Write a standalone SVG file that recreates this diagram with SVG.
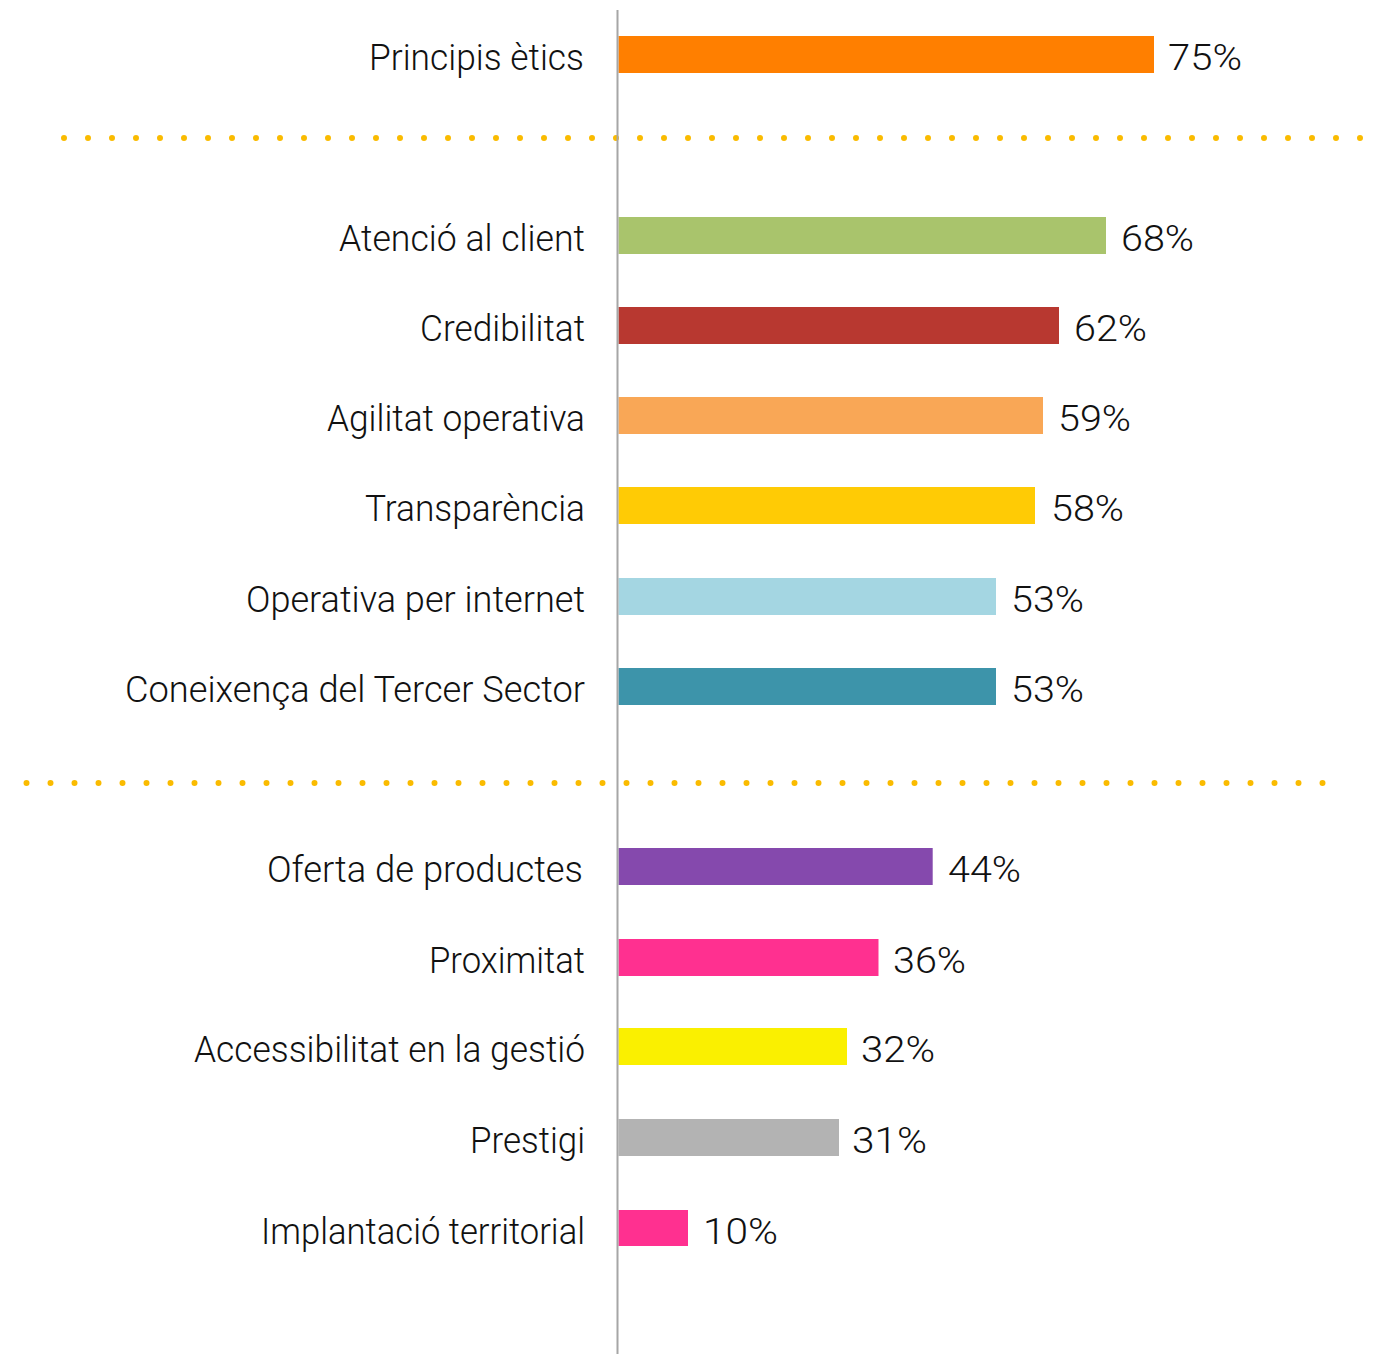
<svg xmlns="http://www.w3.org/2000/svg" width="1373" height="1354" viewBox="0 0 1373 1354">
<style>
  .lbl { font-family: Roboto, "Liberation Sans", sans-serif; font-weight: 300; font-size: 36px; fill: #111; text-anchor: end; }
  .val { font-family: Roboto, "Liberation Sans", sans-serif; font-weight: 300; font-size: 36px; fill: #111; }
  .dots { stroke: #FABB00; stroke-width: 6; stroke-linecap: round; stroke-dasharray: 0 24; fill: none; }
  .axis { stroke: #A6A6A6; stroke-width: 2; }
</style>
<rect width="1373" height="1354" fill="#fff"/>
<g id="separators">
  <line class="dots" x1="64" y1="138" x2="1361" y2="138"/>
  <line class="dots" x1="26.5" y1="783" x2="1323" y2="783"/>
</g>
<g id="bar-principis">
  <rect x="618.5" y="36" width="535.5" height="37" fill="#FF7F00"/>
  <text class="lbl" x="584" y="70" textLength="215" lengthAdjust="spacingAndGlyphs">Principis ètics</text>
  <text class="val" x="1168" y="70" textLength="74" lengthAdjust="spacingAndGlyphs">75%</text>
</g>
<g id="bar-atencio">
  <rect x="618.5" y="217" width="487.5" height="37" fill="#A9C46C"/>
  <text class="lbl" x="585" y="251" textLength="246" lengthAdjust="spacingAndGlyphs">Atenció al client</text>
  <text class="val" x="1121" y="251" textLength="73" lengthAdjust="spacingAndGlyphs">68%</text>
</g>
<g id="bar-credibilitat">
  <rect x="618.5" y="307" width="440.5" height="37" fill="#B83830"/>
  <text class="lbl" x="585" y="341" textLength="165" lengthAdjust="spacingAndGlyphs">Credibilitat</text>
  <text class="val" x="1074" y="341" textLength="73" lengthAdjust="spacingAndGlyphs">62%</text>
</g>
<g id="bar-agilitat">
  <rect x="618.5" y="397" width="424.5" height="37" fill="#F9A756"/>
  <text class="lbl" x="585" y="431" textLength="258" lengthAdjust="spacingAndGlyphs">Agilitat operativa</text>
  <text class="val" x="1058" y="431" textLength="73" lengthAdjust="spacingAndGlyphs">59%</text>
</g>
<g id="bar-transparencia">
  <rect x="618.5" y="487" width="416.5" height="37" fill="#FFCB05"/>
  <text class="lbl" x="585" y="521" textLength="220" lengthAdjust="spacingAndGlyphs">Transparència</text>
  <text class="val" x="1051" y="521" textLength="73" lengthAdjust="spacingAndGlyphs">58%</text>
</g>
<g id="bar-internet">
  <rect x="618.5" y="578" width="377.5" height="37" fill="#A4D6E2"/>
  <text class="lbl" x="585" y="612" textLength="339" lengthAdjust="spacingAndGlyphs">Operativa per internet</text>
  <text class="val" x="1011" y="612" textLength="73" lengthAdjust="spacingAndGlyphs">53%</text>
</g>
<g id="bar-coneixenca">
  <rect x="618.5" y="668" width="377.5" height="37" fill="#3D94AA"/>
  <text class="lbl" x="585" y="702" textLength="460" lengthAdjust="spacingAndGlyphs">Coneixença del Tercer Sector</text>
  <text class="val" x="1011" y="702" textLength="73" lengthAdjust="spacingAndGlyphs">53%</text>
</g>
<g id="bar-oferta">
  <rect x="618.5" y="848" width="314.2" height="37" fill="#8549AD"/>
  <text class="lbl" x="583" y="882" textLength="316" lengthAdjust="spacingAndGlyphs">Oferta de productes</text>
  <text class="val" x="948" y="882" textLength="73" lengthAdjust="spacingAndGlyphs">44%</text>
</g>
<g id="bar-proximitat">
  <rect x="618.5" y="939" width="260" height="37" fill="#FF3090"/>
  <text class="lbl" x="585" y="973" textLength="156" lengthAdjust="spacingAndGlyphs">Proximitat</text>
  <text class="val" x="893" y="973" textLength="73" lengthAdjust="spacingAndGlyphs">36%</text>
</g>
<g id="bar-accessibilitat">
  <rect x="618.5" y="1028" width="228.5" height="37" fill="#FAF000"/>
  <text class="lbl" x="585" y="1062" textLength="391" lengthAdjust="spacingAndGlyphs">Accessibilitat en la gestió</text>
  <text class="val" x="861" y="1062" textLength="74" lengthAdjust="spacingAndGlyphs">32%</text>
</g>
<g id="bar-prestigi">
  <rect x="618.5" y="1119" width="220.5" height="37" fill="#B3B3B3"/>
  <text class="lbl" x="585" y="1153" textLength="115" lengthAdjust="spacingAndGlyphs">Prestigi</text>
  <text class="val" x="852" y="1153" textLength="75" lengthAdjust="spacingAndGlyphs">31%</text>
</g>
<g id="bar-implantacio">
  <rect x="618.5" y="1210" width="69.5" height="36" fill="#FF3090"/>
  <text class="lbl" x="585" y="1244" textLength="324" lengthAdjust="spacingAndGlyphs">Implantació territorial</text>
  <text class="val" x="703" y="1244" textLength="75" lengthAdjust="spacingAndGlyphs">10%</text>
</g>
<g id="axis">
  <line class="axis" x1="617.5" y1="10" x2="617.5" y2="1354"/>
</g>
</svg>
